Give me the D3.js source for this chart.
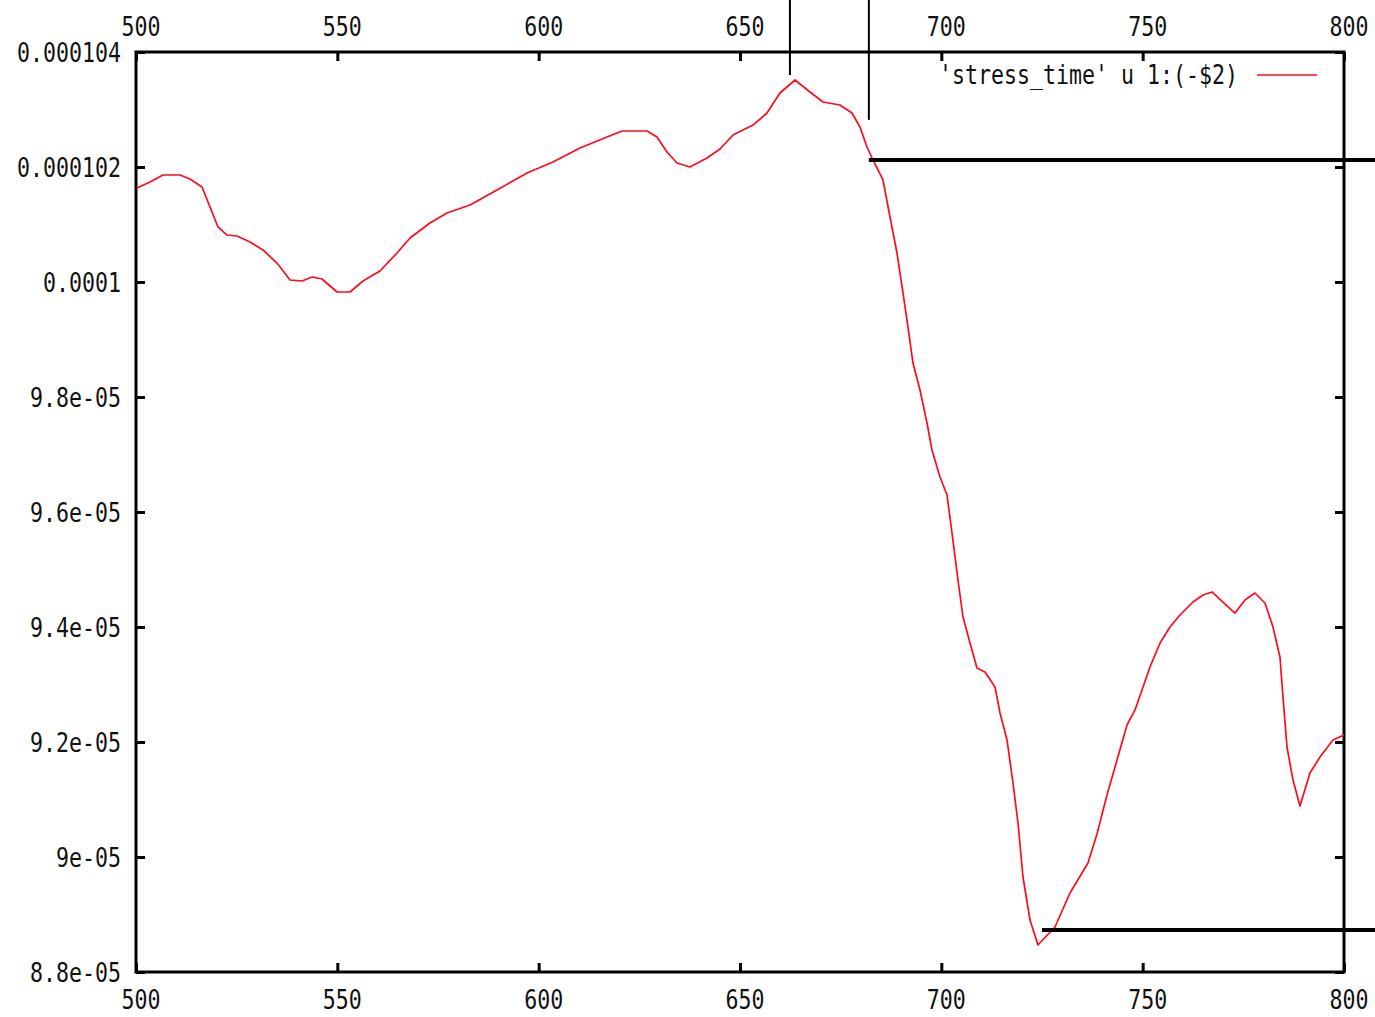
<!DOCTYPE html>
<html>
<head>
<meta charset="utf-8">
<script src="https://cdn.jsdelivr.net/npm/d3@7"></script>
<style>
  html, body { margin: 0; padding: 0; background: #fff; }
  svg { display: block; }
  text { font-family: "DejaVu Sans Mono", "Liberation Mono", monospace; fill: #111; }
</style>
</head>
<body>
<svg id="chart" width="1375" height="1017"></svg>
<script>
// time samples and negated stress (column 1 and -column 2 of stress_time)
const time = [
  500.25, 503.48, 506.71, 510.93, 513.41, 516.39, 518.38, 520.36, 522.60, 525.08,
  528.31, 531.54, 535.02, 538.25, 541.23, 543.71, 546.19, 549.92, 553.15, 556.37,
  560.60, 564.82, 568.05, 573.01, 577.24, 582.95, 589.65, 597.10, 603.56, 610.26,
  616.97, 620.70, 626.90, 629.39, 631.87, 634.35, 637.58, 641.80, 645.03, 648.26,
  653.23, 656.70, 659.93, 663.66, 667.38, 670.61, 674.83, 677.81, 679.80, 681.54,
  683.03, 685.51, 687.25, 688.99, 690.48, 691.72, 692.96, 694.70, 696.44, 697.68,
  699.67, 701.41, 702.65, 704.14, 705.38, 707.12, 708.86, 710.84, 713.33, 714.57,
  716.31, 717.80, 719.04, 720.28, 722.02, 724.00, 728.23, 731.95, 736.42, 738.66,
  741.14, 743.63, 746.11, 748.10, 751.82, 754.31, 756.79, 759.27, 762.50, 764.98,
  767.22, 770.20, 772.93, 775.41, 777.89, 780.38, 782.36, 784.10, 784.85, 785.84,
  787.33, 789.07, 791.55, 794.04, 797.27, 800.00
];
const stress = [
  101.635, 101.739, 101.861, 101.861, 101.791, 101.652, 101.304, 100.957, 100.817, 100.800,
  100.696, 100.557, 100.330, 100.035, 100.017, 100.087, 100.052, 99.826, 99.826, 100.017,
  100.191, 100.504, 100.765, 101.026, 101.200, 101.339, 101.600, 101.896, 102.087, 102.330,
  102.522, 102.626, 102.626, 102.522, 102.261, 102.070, 102.000, 102.157, 102.313, 102.557,
  102.730, 102.939, 103.287, 103.513, 103.304, 103.130, 103.078, 102.939, 102.696, 102.348,
  102.122, 101.774, 101.130, 100.504, 99.809, 99.217, 98.591, 98.122, 97.548, 97.078,
  96.609, 96.296, 95.635, 94.817, 94.174, 93.722, 93.287, 93.217, 92.957, 92.504,
  92.035, 91.287, 90.591, 89.652, 88.904, 88.470, 88.783, 89.374, 89.896, 90.400,
  91.078, 91.687, 92.296, 92.557, 93.304, 93.722, 94.000, 94.209, 94.435, 94.557,
  94.609, 94.417, 94.243, 94.470, 94.591, 94.417, 94.000, 93.478, 92.783, 91.913,
  91.339, 90.887, 91.461, 91.739, 92.035, 92.122
].map(v => v * 1e-6);

// axis ticks
const xTicks = [500, 550, 600, 650, 700, 750, 800];
const xTickLabels = ["500", "550", "600", "650", "700", "750", "800"];
const yTicks = [88e-6, 90e-6, 92e-6, 94e-6, 96e-6, 98e-6, 100e-6, 102e-6, 104e-6];
const yTickLabels = ["8.8e-05", "9e-05", "9.2e-05", "9.4e-05", "9.6e-05", "9.8e-05", "0.0001", "0.000102", "0.000104"];

// guide marks: vertical markers (x, lower end) and horizontal levels (y, start x)
const markX = [662.4, 682.0];
const markXEnd = [103.6e-6, 102.82e-6];
const levelY = [102.12e-6, 88.73e-6];
const levelFrom = [682.0, 725.0];

const legendLabel = "'stress_time' u 1:(-$2)";

const W = 1375, H = 1017;
const m = { left: 136, top: 52, right: 31, bottom: 45 };
const pw = W - m.left - m.right, ph = H - m.top - m.bottom;

const svg = d3.select("#chart");
const x = d3.scaleLinear().domain([500, 800]).range([m.left, m.left + pw]);
const y = d3.scaleLinear().domain([88e-6, 104e-6]).range([m.top + ph, m.top]);

// tall, narrow label glyphs
const SY = 1.25;
function label(px, py, str, anchor) {
  svg.append("g")
    .attr("transform", `translate(${px},${py}) scale(1,${SY})`)
    .append("text")
    .attr("x", 0).attr("y", 0)
    .attr("dy", "0.36em")
    .attr("text-anchor", anchor)
    .style("font-size", "21.6px")
    .text(str);
}

// inward ticks on all four sides
const tickStyle = g => {
  g.select(".domain").remove();
  g.selectAll(".tick line").attr("stroke", "#000").attr("stroke-width", 3);
  g.selectAll(".tick text").remove();
};
svg.append("g").attr("transform", `translate(0,${m.top + ph})`)
  .call(d3.axisBottom(x).tickValues(xTicks).tickSize(-9)).call(tickStyle);
svg.append("g").attr("transform", `translate(0,${m.top})`)
  .call(d3.axisTop(x).tickValues(xTicks).tickSize(-9)).call(tickStyle);
svg.append("g").attr("transform", `translate(${m.left},0)`)
  .call(d3.axisLeft(y).tickValues(yTicks).tickSize(-9)).call(tickStyle);
svg.append("g").attr("transform", `translate(${m.left + pw},0)`)
  .call(d3.axisRight(y).tickValues(yTicks).tickSize(-9)).call(tickStyle);

// frame
svg.append("rect")
  .attr("x", m.left).attr("y", m.top).attr("width", pw).attr("height", ph)
  .attr("fill", "none").attr("stroke", "#000").attr("stroke-width", 3);

// tick labels
xTicks.forEach((t, i) => {
  label(x(t) + 5, 26, xTickLabels[i], "middle");
  label(x(t) + 5, 999, xTickLabels[i], "middle");
});
yTicks.forEach((t, i) => label(m.left - 15, y(t), yTickLabels[i], "end"));

// data curve
const line = d3.line().x((d, i) => x(time[i])).y(d => y(d)).curve(d3.curveLinear);
svg.append("path")
  .datum(stress)
  .attr("d", line)
  .attr("fill", "none")
  .attr("stroke", "#ff0a1e")
  .attr("stroke-width", 1.7)
  .attr("stroke-linejoin", "round");

// guide marks
markX.forEach((v, i) => {
  svg.append("line")
    .attr("x1", x(v)).attr("x2", x(v))
    .attr("y1", 0).attr("y2", y(markXEnd[i]))
    .attr("stroke", "#000").attr("stroke-width", 2);
});
levelY.forEach((v, i) => {
  svg.append("line")
    .attr("x1", x(levelFrom[i])).attr("x2", W)
    .attr("y1", y(v)).attr("y2", y(v))
    .attr("stroke", "#000").attr("stroke-width", 4);
});

// legend
label(1238, 74, legendLabel, "end");
svg.append("line")
  .attr("x1", 1257).attr("x2", 1317).attr("y1", 75).attr("y2", 75)
  .attr("stroke", "#ff0a1e").attr("stroke-width", 1.7);
</script>
</body>
</html>
